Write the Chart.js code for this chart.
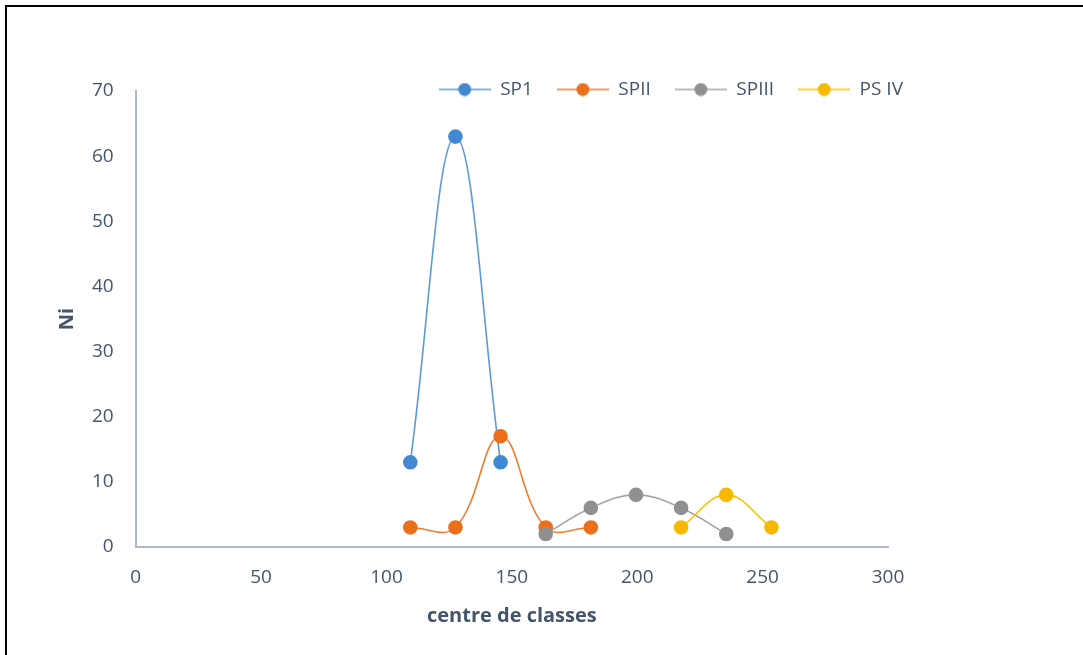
<!DOCTYPE html>
<html>
<head>
<meta charset="utf-8">
<script src="https://cdn.jsdelivr.net/npm/chart.js@4"></script>
<style>
  html, body { margin: 0; padding: 0; background: #fff; overflow: hidden; }
  #wrap { position: relative; width: 1083px; height: 655px; }
  #frame { position: absolute; left: 5px; top: 5px; width: 1100px; height: 700px;
           border-top: 2px solid #000; border-left: 2px solid #000; pointer-events: none; }
</style>
</head>
<body>
<div id="wrap">
  <canvas id="chart" width="1083" height="655"></canvas>
  <div id="frame"></div>
</div>
<script>
// centres de classes et effectifs (Ni)
const sp1X = [109.5, 127.5, 145.5];
const sp1Y = [13, 63, 13];
const sp2X = [109.5, 127.5, 145.5, 163.5, 181.5];
const sp2Y = [3, 3, 17, 3, 3];
const sp3X = [163.5, 181.5, 199.5, 217.5, 235.5];
const sp3Y = [2, 6, 8, 6, 2];
const ps4X = [217.5, 235.5, 253.5];
const ps4Y = [3, 8, 3];

const seriesNames = ['SP1', 'SPII', 'SPIII', 'PS IV'];
const lineColors = ['#5b9bd5', '#ed7d31', '#a5a5a5', '#ffc000'];
const dotColors = ['#4189d2', '#ec6f1c', '#909090', '#f6b900'];

const textColor = '#44546a';
const axisColor = '#adb9ca';

// petit symbole de légende : trait + point
function legendSymbol(line, dot) {
    const c = document.createElement('canvas');
    c.width = 52; c.height = 14;
    const g = c.getContext('2d');
    g.strokeStyle = line;
    g.lineWidth = 1.5;
    g.beginPath(); g.moveTo(0, 7); g.lineTo(52, 7); g.stroke();
    g.fillStyle = dot;
    g.beginPath(); g.arc(26, 7, 6.5, 0, Math.PI * 2); g.fill();
    return c;
}
const legendSymbols = seriesNames.map((n, i) => legendSymbol(lineColors[i], dotColors[i]));

function toPoints(xs, ys) {
    return xs.map((x, i) => ({ x: x, y: ys[i] }));
}

const allX = [sp1X, sp2X, sp3X, ps4X];
const allY = [sp1Y, sp2Y, sp3Y, ps4Y];

const datasets = seriesNames.map((name, i) => ({
    label: name,
    data: toPoints(allX[i], allY[i]),
    borderColor: lineColors[i],
    backgroundColor: dotColors[i],
    pointBackgroundColor: dotColors[i],
    pointBorderColor: dotColors[i],
    pointStyle: 'circle',
    pointRadius: 6.5,
    pointHoverRadius: 6.5,
    borderWidth: 1.6,
    tension: 0.4,
    fill: false,
    order: seriesNames.length - i // la dernière série au-dessus, comme Excel
}));

// déplace la légende vers sa position dans le graphique
const legendShift = {
    id: 'legendShift',
    afterLayout(chart, args, opts) {
        const lg = chart.legend;
        if (!lg) return;
        lg.left += opts.dx; lg.right += opts.dx;
        lg.top += opts.dy; lg.bottom += opts.dy;
    }
};

const font = { family: "'Open Sans', 'Noto Sans', sans-serif", size: 19, lineHeight: 1 };
const titleFont = { family: font.family, size: 20, weight: 'bold', lineHeight: 1 };

new Chart(document.getElementById('chart').getContext('2d'), {
    type: 'line',
    data: { datasets: datasets },
    plugins: [legendShift],
    options: {
        responsive: false,
        animation: false,
        layout: { padding: { left: 53, right: 195, top: 38, bottom: 29 } },
        plugins: {
            legend: {
                position: 'top',
                align: 'end',
                labels: {
                    usePointStyle: true,
                    pointStyleWidth: 52,
                    padding: 24,
                    color: textColor,
                    font: font,
                    generateLabels: (chart) =>
                        Chart.defaults.plugins.legend.labels.generateLabels(chart)
                            .map(item => Object.assign(item, { pointStyle: legendSymbols[item.datasetIndex] })),
                    sort: (a, b) => a.datasetIndex - b.datasetIndex
                }
            },
            legendShift: { dx: 39, dy: 18 },
            tooltip: { enabled: false }
        },
        scales: {
            x: {
                type: 'linear',
                min: 0,
                max: 300,
                ticks: { stepSize: 50, padding: 21, color: textColor, font: font },
                grid: { display: false, drawTicks: false },
                border: { display: true, color: axisColor, width: 2 },
                title: {
                    display: true,
                    text: 'centre de classes',
                    color: textColor,
                    font: titleFont,
                    padding: { top: -2, bottom: 0 }
                }
            },
            y: {
                min: 0,
                max: 70,
                ticks: { stepSize: 10, padding: 22, color: textColor, font: font },
                grid: { display: false, drawTicks: false },
                border: { display: true, color: axisColor, width: 2 },
                title: {
                    display: true,
                    text: 'Ni',
                    color: textColor,
                    font: titleFont,
                    padding: { top: 4, bottom: -7 }
                }
            }
        }
    }
});
</script>
</body>
</html>
